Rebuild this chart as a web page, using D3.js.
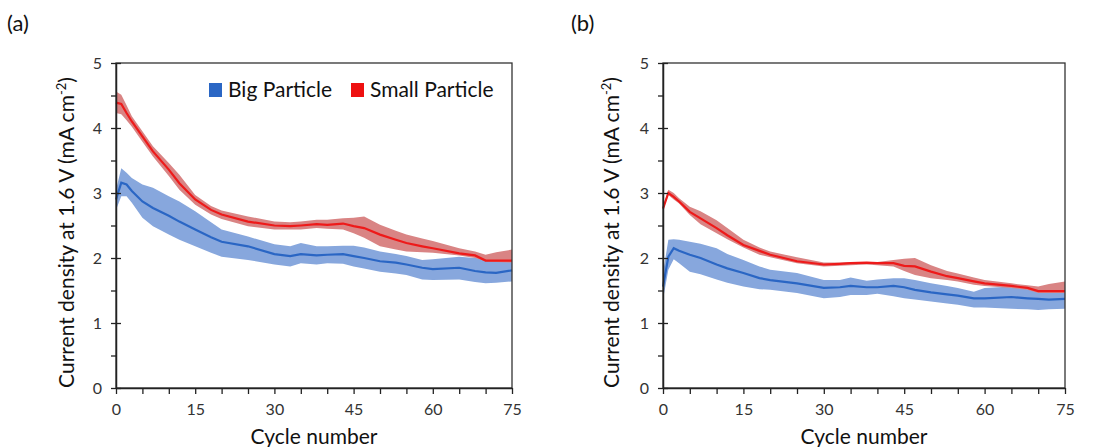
<!DOCTYPE html>
<html>
<head>
<meta charset="utf-8">
<script src="https://cdn.jsdelivr.net/npm/d3@7"></script>
<style>
  body { margin: 0; background: #fff; }
  svg { font-family: Lato, "Open Sans", sans-serif; }
</style>
</head>
<body>
<svg id="chart" width="1101" height="447"></svg>
<script>
// cycle numbers (same for both panels)
const cycles = [0,1,2,3,5,7,10,12,15,18,20,25,30,33,35,38,40,43,45,47,50,53,55,58,60,65,68,70,72,75];

// panel (a)
const aSmallMean = [4.39,4.37,4.23,4.10,3.87,3.64,3.36,3.15,2.90,2.74,2.67,2.56,2.50,2.49,2.50,2.52,2.51,2.53,2.49,2.46,2.36,2.28,2.23,2.18,2.15,2.07,2.04,1.96,1.96,1.96];
const aSmallHi   = [4.56,4.51,4.35,4.18,3.95,3.72,3.46,3.28,2.97,2.80,2.73,2.64,2.56,2.55,2.56,2.59,2.59,2.61,2.62,2.64,2.51,2.42,2.36,2.30,2.26,2.15,2.10,2.05,2.09,2.13];
const aSmallLo   = [4.23,4.21,4.12,4.02,3.79,3.56,3.26,3.05,2.82,2.67,2.60,2.49,2.44,2.44,2.44,2.46,2.45,2.44,2.38,2.31,2.18,2.13,2.10,2.09,2.08,2.04,2.00,1.95,1.94,1.93];
const aBigMean = [2.90,3.16,3.13,3.03,2.87,2.77,2.65,2.56,2.44,2.32,2.25,2.18,2.06,2.03,2.06,2.04,2.05,2.06,2.03,2.00,1.95,1.93,1.90,1.85,1.83,1.85,1.80,1.78,1.77,1.81];
const aBigHi   = [3.05,3.38,3.31,3.23,3.13,3.08,2.95,2.87,2.72,2.55,2.44,2.33,2.21,2.18,2.23,2.18,2.18,2.19,2.19,2.16,2.10,2.06,2.03,1.97,1.98,2.02,2.00,1.99,2.00,2.02];
const aBigLo   = [2.74,2.95,2.95,2.85,2.62,2.49,2.36,2.28,2.18,2.08,2.02,1.97,1.90,1.87,1.92,1.90,1.92,1.91,1.87,1.84,1.79,1.76,1.74,1.67,1.66,1.67,1.63,1.61,1.62,1.64];

// panel (b)
const bSmallMean = [2.76,3.00,2.94,2.87,2.71,2.61,2.46,2.35,2.20,2.11,2.05,1.95,1.90,1.91,1.92,1.93,1.92,1.92,1.88,1.87,1.79,1.72,1.69,1.64,1.61,1.57,1.54,1.49,1.49,1.49];
const bSmallHi   = [2.79,3.05,3.00,2.92,2.79,2.72,2.58,2.46,2.28,2.16,2.10,2.01,1.93,1.93,1.94,1.94,1.94,1.97,1.99,2.00,1.89,1.80,1.76,1.70,1.66,1.61,1.58,1.56,1.60,1.64];
const bSmallLo   = [2.74,2.97,2.90,2.84,2.66,2.52,2.38,2.29,2.16,2.05,2.01,1.92,1.87,1.88,1.89,1.90,1.89,1.87,1.80,1.74,1.69,1.66,1.64,1.59,1.57,1.54,1.51,1.46,1.46,1.46];
const bBigMean = [1.56,2.02,2.15,2.11,2.05,2.00,1.90,1.84,1.77,1.69,1.66,1.61,1.54,1.55,1.57,1.55,1.55,1.57,1.55,1.51,1.47,1.44,1.42,1.38,1.38,1.40,1.38,1.37,1.36,1.37];
const bBigHi   = [1.77,2.28,2.29,2.28,2.25,2.22,2.15,2.06,1.97,1.87,1.82,1.77,1.66,1.66,1.70,1.65,1.67,1.69,1.69,1.66,1.61,1.57,1.54,1.48,1.54,1.56,1.52,1.48,1.49,1.51];
const bBigLo   = [1.36,1.82,1.98,1.92,1.79,1.75,1.67,1.62,1.56,1.52,1.51,1.46,1.38,1.40,1.43,1.43,1.45,1.41,1.38,1.36,1.33,1.30,1.28,1.24,1.24,1.22,1.21,1.20,1.21,1.22];

const xTicks = [0,15,30,45,60,75];
const yTicks = [0,1,2,3,4,5];
const seriesNames = ["Big Particle", "Small Particle"];

const colors = {
    bigLine: "#2a66c4", bigBand: "#87a7dd",
    smallLine: "#ee1a1a", smallBand: "#d98484"
};

const svg = d3.select("#chart");

function drawPanel(opts) {
    const x = d3.scaleLinear().domain([0, 75]).range([opts.left, opts.right]);
    const y = d3.scaleLinear().domain([0, 5]).range([opts.bottom, opts.top]);
    const g = svg.append("g");

    const area = (lo, hi) => d3.area()
        .x((d, i) => x(cycles[i]))
        .y0((d, i) => y(lo[i]))
        .y1((d, i) => y(hi[i]))(cycles);
    const line = (vals) => d3.line()
        .x((d, i) => x(cycles[i]))
        .y((d, i) => y(vals[i]))(cycles);

    g.append("path").attr("d", area(opts.bigLo, opts.bigHi)).attr("fill", colors.bigBand);
    g.append("path").attr("d", area(opts.smallLo, opts.smallHi)).attr("fill", colors.smallBand);
    g.append("path").attr("d", line(opts.bigMean)).attr("fill", "none")
        .attr("stroke", colors.bigLine).attr("stroke-width", 2.2);
    g.append("path").attr("d", line(opts.smallMean)).attr("fill", "none")
        .attr("stroke", colors.smallLine).attr("stroke-width", 2.2);

    // frame
    g.append("rect")
        .attr("x", opts.left).attr("y", opts.top)
        .attr("width", opts.right - opts.left).attr("height", opts.bottom - opts.top)
        .attr("fill", "none").attr("stroke", "#333").attr("stroke-width", 1.3);

    // y axis: major ticks cross, minor ticks outside
    const yAx = g.append("g")
        .attr("transform", `translate(${opts.left},0)`)
        .call(d3.axisLeft(y).tickValues(d3.range(0, 5.01, 0.5)).tickSizeInner(5).tickSizeOuter(0)
            .tickFormat(d => yTicks.includes(d) ? d : ""));
    yAx.select(".domain").attr("stroke", "#222").attr("stroke-width", 1.5);
    yAx.selectAll(".tick line").attr("stroke", "#222").attr("stroke-width", 1.3)
        .attr("x2", -5).attr("x1", d => Number.isInteger(d) ? 5 : 0);
    yAx.selectAll(".tick text").attr("x", -14).attr("font-size", 16).attr("fill", "#333")
        .attr("font-family", "Lato, sans-serif");

    const xAx = g.append("g")
        .attr("transform", `translate(0,${opts.bottom})`)
        .call(d3.axisBottom(x).tickValues(d3.range(0, 76, 5)).tickSizeInner(6).tickSizeOuter(0)
            .tickFormat(d => xTicks.includes(d) ? d : ""));
    xAx.select(".domain").attr("stroke", "#222").attr("stroke-width", 1.5);
    xAx.selectAll(".tick line").attr("stroke", "#222").attr("stroke-width", 1.3);
    xAx.selectAll(".tick text").attr("y", 16).attr("font-size", 16).attr("fill", "#333")
        .attr("font-family", "Lato, sans-serif");

    // axis titles
    const yt = g.append("text")
        .attr("transform", `translate(${opts.yTitleX},${(opts.top + opts.bottom) / 2 + 7}) rotate(-90)`)
        .attr("text-anchor", "middle").attr("font-size", 21).attr("fill", "#111");
    yt.append("tspan").text("Current density at 1.6 V (mA cm");
    yt.append("tspan").text("-2").attr("font-size", 13).attr("dy", -8);
    yt.append("tspan").text(")").attr("dy", 8);

    g.append("text")
        .attr("x", (opts.left + opts.right) / 2).attr("y", 444)
        .attr("text-anchor", "middle").attr("font-size", 21).attr("fill", "#111")
        .text("Cycle number");

    g.append("text")
        .attr("x", opts.labelX).attr("y", 31)
        .attr("font-size", 22).attr("fill", "#111")
        .text(opts.label);

    return {x, y};
}

drawPanel({
    left: 116, right: 512, top: 63, bottom: 388, yTitleX: 74, labelX: 7, label: "(a)",
    smallMean: aSmallMean, smallHi: aSmallHi, smallLo: aSmallLo,
    bigMean: aBigMean, bigHi: aBigHi, bigLo: aBigLo
});
drawPanel({
    left: 663, right: 1065, top: 63, bottom: 388, yTitleX: 619, labelX: 571, label: "(b)",
    smallMean: bSmallMean, smallHi: bSmallHi, smallLo: bSmallLo,
    bigMean: bBigMean, bigHi: bBigHi, bigLo: bBigLo
});

// legend (panel a)
const legend = svg.append("g");
const legendItems = [
    {name: seriesNames[0], color: "#2a66c4", x: 209},
    {name: seriesNames[1], color: "#ee1111", x: 351}
];
legendItems.forEach(it => {
    legend.append("rect").attr("x", it.x).attr("y", 83).attr("width", 13).attr("height", 14).attr("fill", it.color);
    legend.append("text").attr("x", it.x + 19).attr("y", 97).attr("font-size", 21).attr("fill", "#111").text(it.name);
});
</script>
</body>
</html>
